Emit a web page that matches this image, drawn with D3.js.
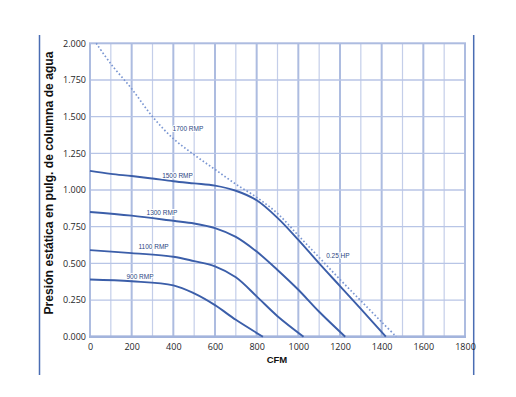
<!DOCTYPE html>
<html>
<head>
<meta charset="utf-8">
<script src="https://cdn.jsdelivr.net/npm/d3@7"></script>
<style>
  body { margin: 0; background: #fff; }
  svg { display: block; }
</style>
</head>
<body>
<div id="chart"></div>
<script>
// curvas del ventilador (CFM vs presión estática)
const cfm_1700 = [30, 100, 200, 300, 400, 500, 600, 700, 800, 900, 1000, 1100, 1200, 1300, 1400, 1470];
const pres_1700 = [2.0, 1.86, 1.69, 1.50, 1.35, 1.24, 1.14, 1.04, 0.95, 0.84, 0.69, 0.54, 0.39, 0.245, 0.1, 0];

const cfm_1500 = [0, 100, 200, 300, 400, 500, 600, 700, 800, 900, 1000, 1100, 1200, 1300, 1420];
const pres_1500 = [1.13, 1.11, 1.095, 1.078, 1.06, 1.045, 1.03, 0.995, 0.93, 0.81, 0.66, 0.5, 0.345, 0.19, 0];

const cfm_1300 = [0, 200, 400, 500, 600, 700, 800, 900, 1000, 1100, 1225];
const pres_1300 = [0.85, 0.825, 0.79, 0.772, 0.74, 0.68, 0.58, 0.455, 0.32, 0.17, 0];

const cfm_1100 = [0, 200, 400, 500, 600, 700, 800, 900, 1025];
const pres_1100 = [0.59, 0.57, 0.545, 0.515, 0.48, 0.405, 0.275, 0.14, 0];

const cfm_900 = [0, 200, 400, 500, 600, 700, 830];
const pres_900 = [0.39, 0.378, 0.35, 0.295, 0.215, 0.115, 0];

const x_ticks = [0, 200, 400, 600, 800, 1000, 1200, 1400, 1600, 1800];
const y_ticks = [0, 0.25, 0.5, 0.75, 1.0, 1.25, 1.5, 1.75, 2.0];

// etiquetas: texto, cfm, presión
const labels = [
    ['1700 RMP', 470, 1.42],
    ['1500 RMP', 420, 1.095],
    ['1300 RMP', 345, 0.845],
    ['1100 RMP', 305, 0.615],
    ['900 RMP', 240, 0.41],
    ['0.25 HP', 1190, 0.55]
];

const width = 516, height = 397;

const svg = d3.select('#chart')
    .append('svg')
    .attr('width', width)
    .attr('height', height);

const x = d3.scaleLinear().domain([0, 1800]).range([90, 465]);
const y = d3.scaleLinear().domain([0, 2]).range([336.7, 43.3]);

// lineas verticales exteriores
svg.append('line').attr('x1', 39.5).attr('x2', 39.5).attr('y1', 35).attr('y2', 375)
    .attr('stroke', '#4a6db3').attr('stroke-width', 1.5);
svg.append('line').attr('x1', 473.7).attr('x2', 473.7).attr('y1', 35).attr('y2', 375)
    .attr('stroke', '#4a6db3').attr('stroke-width', 1.5);

// rejilla
const grid = svg.append('g');
d3.range(100, 1800, 100).forEach(v => {
    const major = v % 200 === 0;
    grid.append('line')
        .attr('x1', x(v)).attr('x2', x(v))
        .attr('y1', y(2)).attr('y2', y(0))
        .attr('stroke', major ? '#adbce0' : '#c4cee9')
        .attr('stroke-width', major ? 2 : 1.2);
});
y_ticks.slice(1, -1).forEach(v => {
    grid.append('line')
        .attr('x1', x(0)).attr('x2', x(1800))
        .attr('y1', y(v)).attr('y2', y(v))
        .attr('stroke', '#b8c5e6')
        .attr('stroke-width', 1.3);
});
// marco
grid.append('rect')
    .attr('x', x(0)).attr('y', y(2))
    .attr('width', x(1800) - x(0)).attr('height', y(0) - y(2))
    .attr('fill', 'none')
    .attr('stroke', '#adbce0')
    .attr('stroke-width', 2);
grid.append('line')
    .attr('x1', x(0) - 1).attr('x2', x(1800) + 1)
    .attr('y1', y(0)).attr('y2', y(0))
    .attr('stroke', '#a3b4dc').attr('stroke-width', 2.6);

// ejes (solo etiquetas)
const xAxis = svg.append('g')
    .attr('transform', `translate(0, ${y(0)})`)
    .call(d3.axisBottom(x).tickValues(x_ticks).tickSize(0).tickPadding(7).tickFormat(d3.format('d')));
const yAxis = svg.append('g')
    .attr('transform', `translate(${x(0)}, 0)`)
    .call(d3.axisLeft(y).tickValues(y_ticks).tickSize(0).tickPadding(4).tickFormat(d3.format('.3f')));
[xAxis, yAxis].forEach(a => {
    a.select('.domain').remove();
    a.selectAll('text')
        .attr('font-family', '"Open Sans", sans-serif')
        .attr('font-size', 9)
        .attr('fill', '#1e1e28');
});

// curvas
const line = d3.line()
    .x(d => x(d[0]))
    .y(d => y(d[1]))
    .curve(d3.curveCatmullRom.alpha(0.5));

const solids = [
    [cfm_1500, pres_1500],
    [cfm_1300, pres_1300],
    [cfm_1100, pres_1100],
    [cfm_900, pres_900]
];
solids.forEach(([xs, ys]) => {
    svg.append('path')
        .datum(d3.zip(xs, ys))
        .attr('d', line)
        .attr('fill', 'none')
        .attr('stroke', '#3b5ea9')
        .attr('stroke-width', 1.9);
});

svg.append('path')
    .datum(d3.zip(cfm_1700, pres_1700))
    .attr('d', line)
    .attr('fill', 'none')
    .attr('stroke', '#7a96d2')
    .attr('stroke-width', 1.7)
    .attr('stroke-dasharray', '1.6,2.2');

// etiquetas de curvas
svg.selectAll('.lbl')
    .data(labels)
    .enter()
    .append('text')
    .attr('class', 'lbl')
    .attr('x', d => x(d[1]))
    .attr('y', d => y(d[2]))
    .attr('text-anchor', 'middle')
    .attr('dy', '0.35em')
    .attr('font-family', '"Liberation Sans Narrow", "Liberation Sans", sans-serif')
    .attr('font-size', 6.5)
    .attr('fill', '#2c4683')
    .attr('stroke', '#fff')
    .attr('stroke-width', 2)
    .attr('paint-order', 'stroke')
    .text(d => d[0]);

// titulos de ejes
svg.append('text')
    .attr('transform', 'translate(53, 183) rotate(-90)')
    .attr('text-anchor', 'middle')
    .attr('font-family', '"Liberation Sans", Arial, sans-serif')
    .attr('font-weight', 'bold')
    .attr('font-size', 12.5)
    .attr('fill', '#111')
    .attr('textLength', 263)
    .attr('lengthAdjust', 'spacingAndGlyphs')
    .text('Presión estática en pulg. de columna de agua');

svg.append('text')
    .attr('x', 277)
    .attr('y', 363)
    .attr('text-anchor', 'middle')
    .attr('font-family', '"Liberation Sans", Arial, sans-serif')
    .attr('font-weight', 'bold')
    .attr('font-size', 9.5)
    .attr('fill', '#111')
    .text('CFM');
</script>
</body>
</html>
